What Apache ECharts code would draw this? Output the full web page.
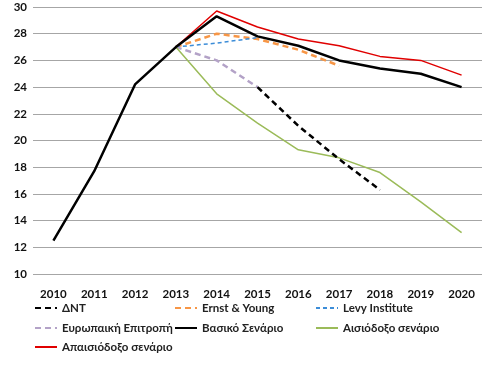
<!DOCTYPE html>
<html><head><meta charset="utf-8">
<script src="https://cdn.jsdelivr.net/npm/echarts@6/dist/echarts.min.js"></script>
<style>html,body{margin:0;padding:0;background:#fff}#c{width:485px;height:372px}</style>
</head><body><div id="c"></div>
<script>
const years = ['2010','2011','2012','2013','2014','2015','2016','2017','2018','2019','2020'];
const yTicks = [10,12,14,16,18,20,22,24,26,28,30];
const dnt = [null,null,null,null,null,24.0,21.1,18.6,16.3,null,null];
const ernst = [null,null,null,27.0,28.0,27.6,26.8,25.6,null,null,null];
const levy = [null,null,null,27.0,27.3,27.7,null,null,null,null,null];
const eu = [null,null,null,27.0,26.0,24.0,null,null,null,null,null];
const basic = [12.5,17.7,24.2,27.0,29.3,27.8,27.1,26.0,25.4,25.0,24.0];
const optimistic = [null,null,null,27.0,23.5,21.3,19.3,18.7,17.6,15.4,13.1];
const pessimistic = [null,null,null,27.0,29.7,28.5,27.6,27.1,26.3,26.0,24.9];

const names = ['ΔΝΤ','Ernst & Young','Levy Institute','Ευρωπαική Επιτροπή','Βασικό Σενάριο','Αισιόδοξο σενάριο','Απαισιόδοξο σενάριο'];
const FONT = 'Lato';
function mk(name, data, color, width, type, z){
  return {name, type:'line', data, symbol:'none', z:z||2, connectNulls:false,
    lineStyle:{color, width, type}, itemStyle:{color}};
}
const series = [
  mk(names[0], dnt, '#000000', 2.5, [6,4], 5),
  mk(names[1], ernst, '#F79646', 2.5, [6,4], 3),
  mk(names[2], levy, '#3C8DD8', 1.5, [4,3], 3),
  mk(names[3], eu, '#B3A2C7', 2.5, [6,4], 3),
  mk(names[4], basic, '#000000', 2.5, 'solid', 4),
  mk(names[5], optimistic, '#9BBB59', 1.5, 'solid', 3),
  mk(names[6], pessimistic, '#E00000', 1.5, 'solid', 3)
];
const legendPos = [[34,302],[174,302],[315,302],[34,322],[174,322],[315,322],[34,341]];
const legends = names.map((n,i)=>({
  data:[n], left:legendPos[i][0], top:legendPos[i][1], itemWidth:22, itemHeight:10, itemGap:2, padding:0,
  itemStyle:{opacity:0, borderWidth:0},
  textStyle:{fontFamily:FONT, fontWeight:'bold', fontSize:11.5, color:'#222'}
}));
const chart = echarts.init(document.getElementById('c'));
chart.setOption({
  animation:false,
  backgroundColor:'#fff',
  grid:{left:33, right:3, top:7, bottom:98},
  legend: legends,
  xAxis:{type:'category', data:years, boundaryGap:true,
    axisLine:{show:false}, axisTick:{show:false},
    axisLabel:{fontFamily:FONT, fontWeight:'bold', fontSize:11.5, color:'#111', margin:14}},
  yAxis:{type:'value', min:10, max:30, interval:2,
    axisLine:{show:false}, axisTick:{show:false},
    splitLine:{lineStyle:{color:'#A6A6A6', width:1}},
    axisLabel:{fontFamily:FONT, fontWeight:'bold', fontSize:11.5, color:'#111', margin:6,
      formatter:v=>yTicks.includes(v)?String(v):''}},
  series
});
</script></body></html>
